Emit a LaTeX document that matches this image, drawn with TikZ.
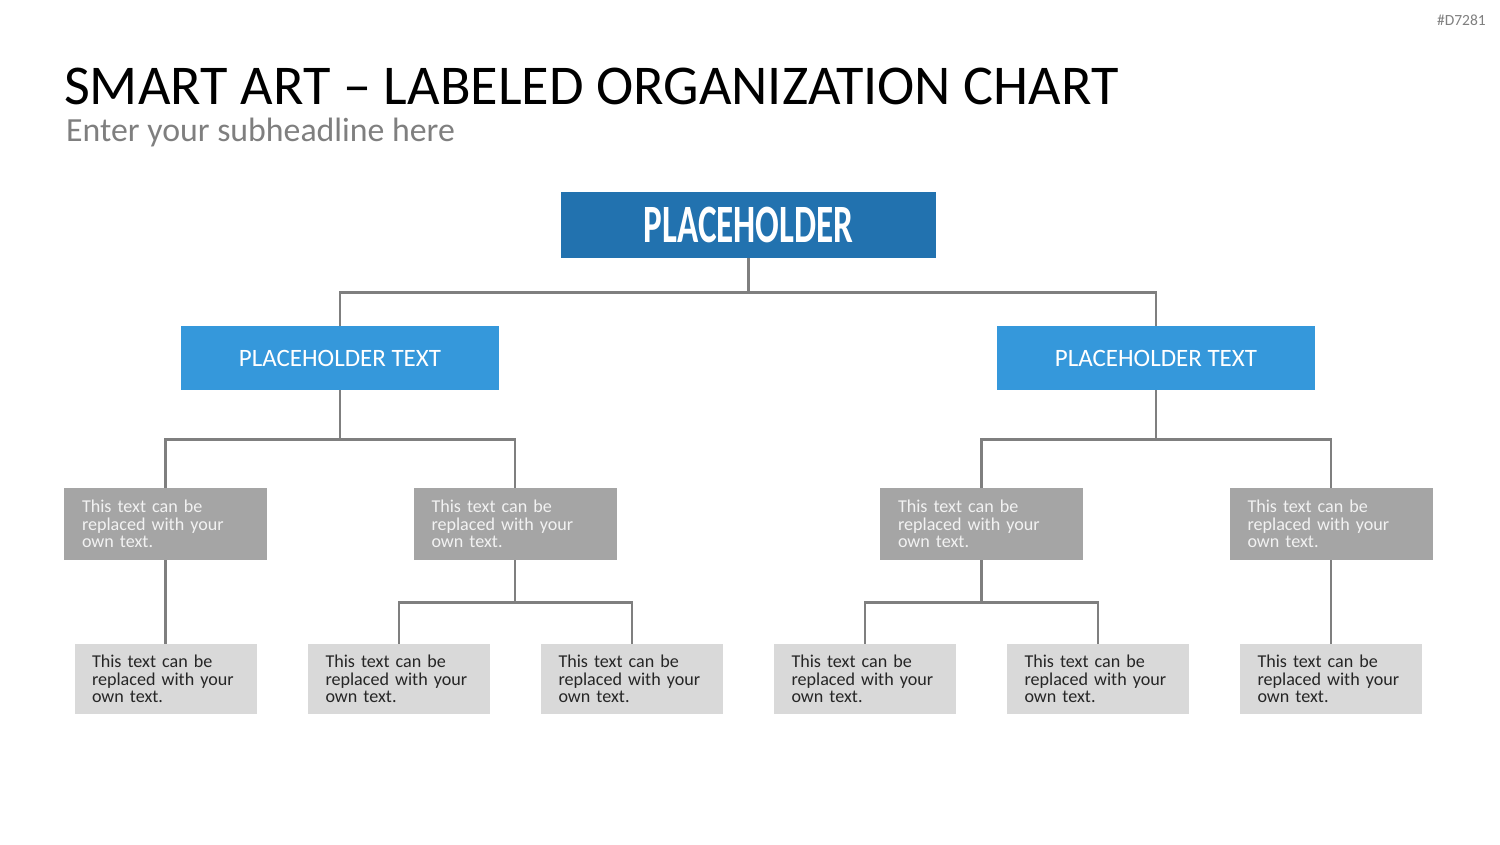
\documentclass[tikz,border=0pt]{standalone}
\usepackage{fontspec}
\setmainfont{Carlito}
\usetikzlibrary{positioning}
\definecolor{chiefblue}{HTML}{2272AF}
\definecolor{deptblue}{HTML}{3598DB}
\definecolor{unitgray}{HTML}{A5A5A5}
\definecolor{teamgray}{HTML}{D9D9D9}
\definecolor{linegray}{HTML}{7F7F7F}
\newcommand{\boxtext}{This text can be\\replaced with your\\own text.}

\begin{document}
\begin{tikzpicture}[
  x=1pt, y=-1pt,
  chief/.style={fill=chiefblue, minimum width=375pt, minimum height=66pt,
                inner sep=0pt, text=white, font=\fontsize{54}{54}\bfseries},
  dept/.style={fill=deptblue, minimum width=318pt, minimum height=64pt,
               inner sep=0pt, text=white, font=\fontsize{25}{25}\selectfont},
  unit/.style={fill=unitgray, minimum width=203pt, minimum height=72pt,
               text width=167pt, inner xsep=18pt, inner ysep=0pt, align=left,
               text=white!95!black, font=\fontsize{18.1}{17.6}\selectfont},
  team/.style={fill=teamgray, minimum width=182pt, minimum height=70pt,
               text width=147pt, inner xsep=17.5pt, inner ysep=0pt, align=left,
               text=black!85, font=\fontsize{18.1}{17.6}\selectfont},
  conn/.style={draw=linegray, line width=2.8pt}
]
  \useasboundingbox (0,0) rectangle (1500,844);

  \node[anchor=base east, inner sep=0pt, text=linegray, font=\fontsize{15.5}{15.5}\selectfont]
    (code) at (1486,25) {\#D7281};
  \node[anchor=base west, inner sep=0pt, font=\fontsize{56.2}{56.2}\selectfont]
    (title) at (64,104) {SMART ART -- LABELED ORGANIZATION CHART};
  \node[anchor=base west, inner sep=0pt, text=linegray, font=\fontsize{33.8}{33.8}\selectfont]
    (sub) at (66,141) {Enter your subheadline here};

  \node[chief] (top) at (748.5,225) {\scalebox{0.65}[1]{PLACEHOLDER}};

  \node[dept] (pl) at (340,358)  {PLACEHOLDER TEXT};
  \node[dept] (pr) at (1156,358) {PLACEHOLDER TEXT};

  \node[unit] (ua) at (165.5,524) {\boxtext};
  \node[unit] (ub) at (515,524)   {\boxtext};
  \node[unit] (uc) at (981.5,524) {\boxtext};
  \node[unit] (ud) at (1331,524)  {\boxtext};

  \node[team] (ta) at (165.5,679) {\boxtext};
  \node[team] (tb) at (399,679)   {\boxtext};
  \node[team] (tc) at (632,679)   {\boxtext};
  \node[team] (td) at (865,679)   {\boxtext};
  \node[team] (te) at (1098,679)  {\boxtext};
  \node[team] (tf) at (1331,679)  {\boxtext};

  % connectors
  \draw[conn] (top.south) -- ++(0,34) -| (pl.north);
  \draw[conn] (top.south) -- ++(0,34) -| (pr.north);
  \draw[conn] (pl.south) -- ++(0,49) -| (ua.north);
  \draw[conn] (pl.south) -- ++(0,49) -| (ub.north);
  \draw[conn] (pr.south) -- ++(0,49) -| (uc.north);
  \draw[conn] (pr.south) -- ++(0,49) -| (ud.north);
  \draw[conn] (ua.south) -- (ta.north);
  \draw[conn] (ub.south) -- ++(0,42) -| (tb.north);
  \draw[conn] (ub.south) -- ++(0,42) -| (tc.north);
  \draw[conn] (uc.south) -- ++(0,42) -| (td.north);
  \draw[conn] (uc.south) -- ++(0,42) -| (te.north);
  \draw[conn] (ud.south) -- (tf.north);
\end{tikzpicture}
\end{document}
